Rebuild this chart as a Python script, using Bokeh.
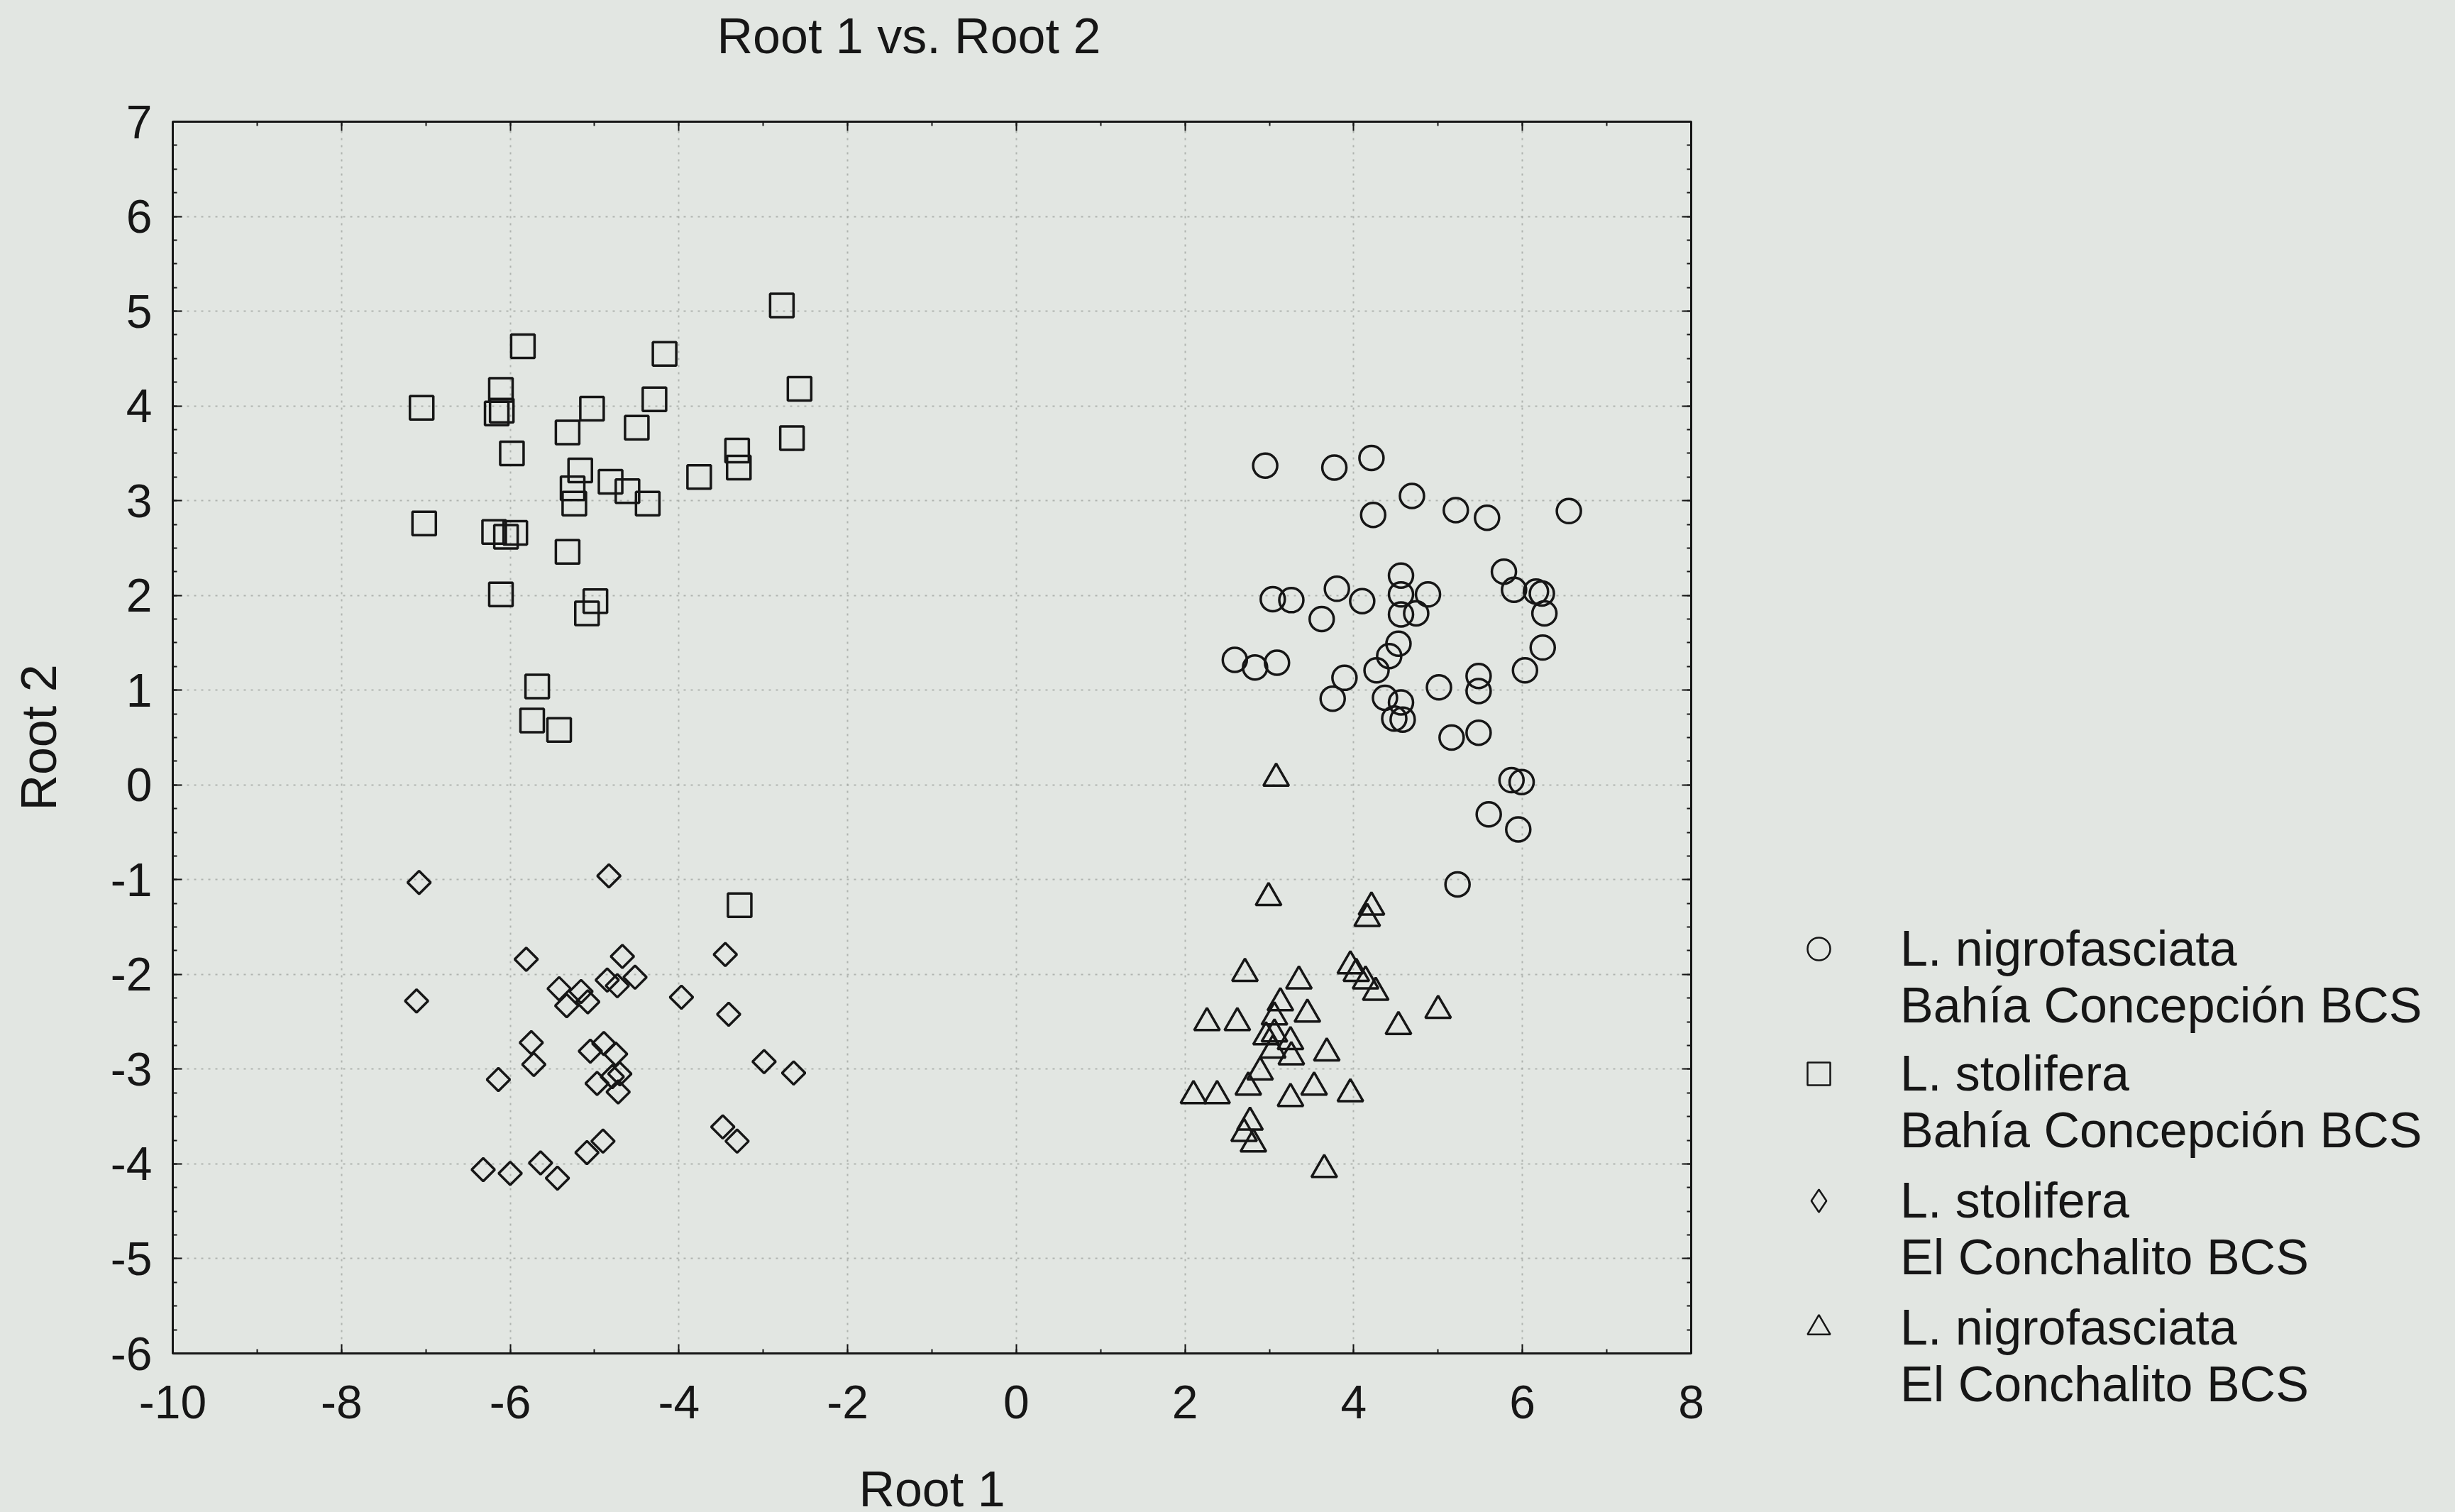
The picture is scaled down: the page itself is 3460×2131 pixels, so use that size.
from bokeh.plotting import figure
from bokeh.layouts import row, column
from bokeh.models import (Range1d, SingleIntervalTicker, LinearAxis, Legend, LegendItem,
                          PrintfTickFormatter, Grid)
from bokeh.embed import file_html
from bokeh.resources import INLINE
import math

# ---------------- data ----------------
title_text = "Root 1 vs. Root 2"
x_label = "Root 1"
y_label = "Root 2"

# L. nigrofasciata - Bahía Concepción BCS (circles)
x_ci = [2.95, 3.77, 4.21, 4.69, 4.23, 5.21, 5.58, 6.55, 5.78, 5.90, 6.16, 6.23, 6.26, 6.24, 6.03,
        3.04, 3.26, 3.80, 4.10, 3.62, 4.56, 4.56, 4.88, 4.56, 4.74, 4.53, 4.42, 4.27, 2.59, 2.83,
        3.09, 3.89, 3.75, 4.37, 4.56, 4.48, 4.58, 5.01, 5.48, 5.48, 5.16, 5.48, 5.87, 5.99, 5.60,
        5.95, 5.23]
y_ci = [3.37, 3.35, 3.45, 3.05, 2.85, 2.90, 2.82, 2.89, 2.25, 2.06, 2.04, 2.02, 1.81, 1.45, 1.21,
        1.96, 1.95, 2.07, 1.94, 1.75, 2.21, 2.01, 2.01, 1.80, 1.81, 1.49, 1.36, 1.21, 1.32, 1.24,
        1.29, 1.13, 0.91, 0.92, 0.87, 0.70, 0.69, 1.03, 1.15, 0.99, 0.50, 0.55, 0.05, 0.03, -0.31,
        -0.47, -1.05]

# L. stolifera - Bahía Concepción BCS (squares)
x_sq = [-2.78, -5.85, -4.17, -6.11, -2.57, -7.05, -6.16, -6.10, -5.03, -4.29, -5.32, -4.50, -2.66,
        -3.31, -3.29, -5.98, -5.17, -5.26, -5.24, -4.81, -4.61, -4.37, -3.76, -7.02, -6.19, -5.94,
        -6.05, -5.32, -6.11, -4.99, -5.09, -5.68, -5.74, -5.42, -3.28]
y_sq = [5.06, 4.63, 4.55, 4.17, 4.18, 3.98, 3.92, 3.95, 3.97, 4.07, 3.72, 3.77, 3.66,
        3.53, 3.35, 3.50, 3.32, 3.13, 2.97, 3.20, 3.10, 2.97, 3.25, 2.76, 2.67, 2.66,
        2.62, 2.46, 2.01, 1.94, 1.81, 1.04, 0.68, 0.58, -1.27]

# L. stolifera - El Conchalito BCS (diamonds)
x_di = [-7.08, -4.83, -5.81, -4.67, -3.45, -7.11, -5.42, -5.16, -5.33, -5.08, -4.85, -4.73, -4.52,
        -3.97, -3.41, -5.75, -5.72, -6.14, -5.05, -4.89, -4.75, -4.70, -4.79, -4.97, -4.72, -2.99,
        -2.64, -3.48, -3.31, -4.90, -5.09, -5.64, -5.44, -6.32, -6.00]
y_di = [-1.03, -0.96, -1.84, -1.81, -1.79, -2.28, -2.15, -2.18, -2.33, -2.29, -2.06, -2.12, -2.03,
        -2.24, -2.42, -2.72, -2.95, -3.11, -2.81, -2.73, -2.84, -3.05, -3.08, -3.15, -3.24, -2.92,
        -3.04, -3.61, -3.76, -3.76, -3.88, -3.99, -4.15, -4.06, -4.10]

# L. nigrofasciata - El Conchalito BCS (triangles)
x_tr = [3.08, 2.99, 4.21, 4.16, 2.71, 3.35, 3.96, 4.03, 4.14, 4.26, 3.13, 3.45, 5.00, 4.53, 2.26,
        2.62, 3.06, 2.96, 3.04, 3.25, 3.26, 3.06, 3.68, 2.89, 2.75, 2.10, 2.38, 3.25, 3.53, 3.96,
        2.77, 2.70, 2.81, 3.65]
y_tr = [0.07, -1.19, -1.29, -1.41, -1.99, -2.07, -1.91, -1.99, -2.07, -2.19, -2.30, -2.42, -2.38,
        -2.55, -2.51, -2.51, -2.45, -2.66, -2.80, -2.71, -2.87, -2.63, -2.83, -3.03, -3.19, -3.28,
        -3.28, -3.31, -3.19, -3.26, -3.56, -3.68, -3.79, -4.06]

legend_lines = [("L. nigrofasciata", "Bahía Concepción BCS"),
                ("L. stolifera", "Bahía Concepción BCS"),
                ("L. stolifera", "El Conchalito BCS"),
                ("L. nigrofasciata", "El Conchalito BCS")]

x_limits = (-10, 8)
y_limits = (-6, 7)

# ---------------- styling / layout constants ----------------
BG = "#e2e6e2"
INK = "#161616"
FONT = "Liberation Sans"
FS = "66px"
FS_BIG = "70px"

TOTAL_H = 2128
TITLE_H = 125
FRAME_L, FRAME_W, FRAME_H = 243, 2140, 1736
FRAME_TOP = 171
PW = FRAME_L + FRAME_W + 20
TOTAL_W = 3444

# ---- title strip ----
tfig = figure(width=PW, height=TITLE_H, x_range=Range1d(0, 1), y_range=Range1d(0, 1),
              x_axis_type=None, y_axis_type=None, output_backend="svg",
              toolbar_location=None, min_border=0,
              background_fill_color=BG, border_fill_color=BG)
tfig.outline_line_color = None
tfig.title.text = title_text
tfig.title.align = "left"
tfig.title.offset = 1010 - FRAME_L
tfig.title.standoff = 18
tfig.title.text_font = FONT
tfig.title.text_font_size = FS_BIG
tfig.title.text_font_style = "normal"
tfig.title.text_color = INK

# ---- main plot ----
p = figure(frame_width=FRAME_W, frame_height=FRAME_H,
           x_range=Range1d(*x_limits), y_range=Range1d(*y_limits),
           x_axis_type=None, y_axis_type=None,
           output_backend="svg", toolbar_location=None,
           min_border_left=FRAME_L, min_border_right=20,
           min_border_top=FRAME_TOP - TITLE_H,
           min_border_bottom=TOTAL_H - FRAME_TOP - FRAME_H,
           background_fill_color=BG, border_fill_color=BG)
p.outline_line_color = INK
p.outline_line_width = 3

xt = SingleIntervalTicker(interval=2, num_minor_ticks=2)
yt = SingleIntervalTicker(interval=1, num_minor_ticks=4)


def style_axis(ax, labels=True):
    ax.axis_line_color = INK
    ax.axis_line_width = 3
    ax.major_tick_in = 13
    ax.major_tick_out = 0
    ax.minor_tick_in = 6
    ax.minor_tick_out = 0
    ax.major_tick_line_color = INK
    ax.major_tick_line_width = 2
    ax.minor_tick_line_color = INK
    ax.minor_tick_line_width = 2
    ax.major_label_text_font = FONT
    ax.axis_label_text_font = FONT
    ax.axis_label_text_font_size = FS_BIG
    ax.axis_label_text_font_style = "normal"
    ax.axis_label_text_color = INK
    if labels:
        ax.major_label_text_font_size = FS
        ax.major_label_text_color = INK
    else:
        ax.major_label_text_font_size = "1px"
        ax.major_label_text_color = None
        ax.major_label_standoff = 0


xb = LinearAxis(ticker=xt, formatter=PrintfTickFormatter(format="%d"), axis_label=x_label)
style_axis(xb)
xb.major_label_standoff = 45
xb.axis_label_standoff = 58
p.add_layout(xb, "below")

yl = LinearAxis(ticker=yt, formatter=PrintfTickFormatter(format="%d"), axis_label=y_label)
style_axis(yl)
yl.major_label_standoff = 29
yl.axis_label_standoff = 59
p.add_layout(yl, "left")

xa = LinearAxis(ticker=xt)
style_axis(xa, labels=False)
p.add_layout(xa, "above")

yr = LinearAxis(ticker=yt)
style_axis(yr, labels=False)
p.add_layout(yr, "right")

for dim, tk in ((0, xt), (1, yt)):
    g = Grid(dimension=dim, ticker=tk, grid_line_color="#a4a8a4",
             grid_line_width=2, grid_line_dash="3 7", grid_line_alpha=0.8)
    p.add_layout(g)

common = dict(fill_color=None, line_color=INK, line_width=3.5)
circle_style = dict(marker="circle", size=34)
square_style = dict(marker="square", size=33)
diamond_style = dict(marker="square", size=23, angle=math.pi / 4)
triangle_style = dict(marker="triangle", size=36)
series = [(x_ci, y_ci, circle_style), (x_sq, y_sq, square_style),
          (x_di, y_di, diamond_style), (x_tr, y_tr, triangle_style)]

for xs, ys, st in series:
    p.scatter(x=xs, y=ys, **st, **common)

# ---- legend panel (separate figure to the right; its data lie outside its ranges) ----
q = figure(width=TOTAL_W - PW, height=TOTAL_H, x_range=Range1d(0, 1), y_range=Range1d(0, 1),
           x_axis_type=None, y_axis_type=None, output_backend="svg", toolbar_location=None,
           min_border=0, background_fill_color=BG, border_fill_color=BG)
q.outline_line_color = None

legend_styles = [circle_style, square_style, dict(marker="diamond", size=30), triangle_style]
leg_common = dict(fill_color=None, line_color=INK, line_width=2.5)
lg_r = [q.scatter(x=xs, y=ys, **st, **leg_common)
        for (xs, ys, _), st in zip(series, legend_styles)]
blank = q.scatter(x=x_ci, y=y_ci, marker="circle", size=1, line_alpha=0, fill_alpha=0)

first_line_y = [1337, 1513, 1692, 1871]   # page y of first line of each legend entry
legend_left = 2563 - PW - 40
for (l1, l2), r, cy in zip(legend_lines, lg_r, first_line_y):
    vy = TOTAL_H - (cy + 120)
    lg = Legend(items=[LegendItem(label=l1, renderers=[r]),
                       LegendItem(label=l2, renderers=[blank])],
                location=(legend_left, vy), orientation="vertical",
                glyph_width=80, glyph_height=80, label_height=78,
                label_standoff=75, spacing=0, padding=0, margin=0,
                border_line_color=None, background_fill_alpha=0,
                label_text_font=FONT, label_text_font_size=FS_BIG,
                label_text_color=INK)
    q.add_layout(lg)

layout = row(column(tfig, p), q)
html = file_html(layout, INLINE)
css = "<style>html, body { background-color: %s !important; }</style>" % BG
html = html.replace("</head>", css + "</head>", 1)
open("out.html", "w").write(html)
